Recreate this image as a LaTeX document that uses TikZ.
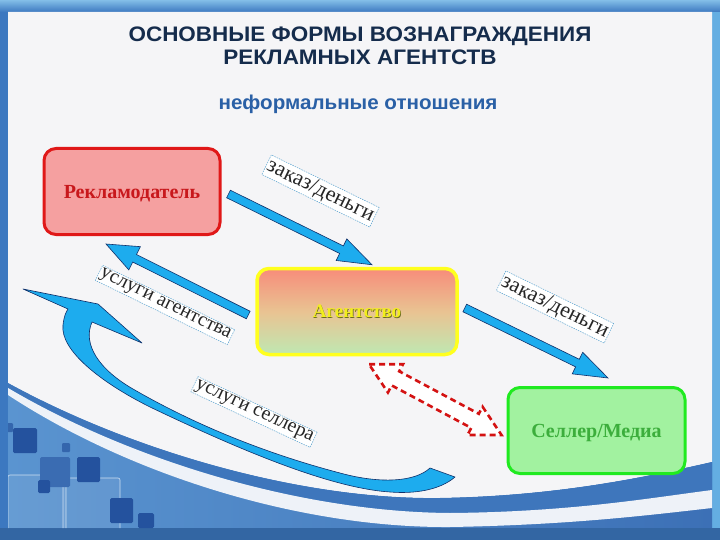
\documentclass[tikz,border=0pt]{standalone}
\usepackage{fontspec}
\setmainfont{Liberation Serif}
\newfontfamily\headfont{Liberation Sans}
\usetikzlibrary{calc}
\definecolor{frameL}{HTML}{3C78C0}
\definecolor{frameR}{HTML}{64AEE2}
\definecolor{inner}{HTML}{F5F5F7}
\definecolor{band}{HTML}{3E76BC}
\definecolor{stripe}{HTML}{EEF2F8}
\definecolor{lowL}{HTML}{5A94D0}
\definecolor{lowR}{HTML}{3C70B6}
\definecolor{sqdark}{HTML}{24529E}
\definecolor{titlec}{HTML}{152C4C}
\definecolor{subc}{HTML}{2A60A6}
\definecolor{advfill}{HTML}{F5A0A0}
\definecolor{advline}{HTML}{E01818}
\definecolor{advtext}{HTML}{C8181C}
\definecolor{agline}{HTML}{FFFF1E}
\definecolor{agtop}{HTML}{F78C7A}
\definecolor{agmid}{HTML}{E9C392}
\definecolor{agbot}{HTML}{BEE8B2}
\definecolor{agtext}{HTML}{F2EE1C}
\definecolor{agshadow}{HTML}{6A6A20}
\definecolor{selfill}{HTML}{A2F2A0}
\definecolor{selline}{HTML}{20EA20}
\definecolor{seltext}{HTML}{3CAE3C}
\definecolor{arrfill}{HTML}{1DACEE}
\definecolor{arrline}{HTML}{10306A}
\definecolor{dashred}{HTML}{D41212}
\definecolor{lblline}{HTML}{5AA2CE}
\newcommand\blockarrow[7]{%
  \coordinate (#1h) at ($(#3)!#6!(#2)$);
  \draw[#7] ($(#2)!#4!90:(#3)$) -- ($(#1h)!#4!-90:(#2)$) -- ($(#1h)!#5!-90:(#2)$) -- (#3)
    -- ($(#1h)!#5!90:(#2)$) -- ($(#1h)!#4!90:(#2)$) -- ($(#2)!#4!-90:(#3)$) -- cycle;}
\newcommand\doublearrow[7]{%
  \coordinate (#1p) at ($(#2)!#6!(#3)$);
  \coordinate (#1q) at ($(#3)!#6!(#2)$);
  \draw[#7] (#2) -- ($(#1p)!#5!90:(#3)$) -- ($(#1p)!#4!90:(#3)$) -- ($(#1q)!#4!-90:(#2)$)
    -- ($(#1q)!#5!-90:(#2)$) -- (#3) -- ($(#1q)!#5!90:(#2)$) -- ($(#1q)!#4!90:(#2)$)
    -- ($(#1p)!#4!-90:(#3)$) -- ($(#1p)!#5!-90:(#3)$) -- cycle;}
\tikzset{
  box/.style={rounded corners=12pt, minimum height=86pt, inner sep=0pt, text depth=0pt,
    font=\fontsize{20}{20}\selectfont\bfseries},
  lbl/.style={draw=lblline, fill=white, dash pattern=on 1.5pt off 1pt, line width=0.5pt,
    inner sep=1.5pt, font=\fontsize{20}{20}\selectfont, text=black!85},
  bluearrow/.style={fill=arrfill, draw=arrline, line width=0.6pt, line join=miter},
  sq/.style={fill=sqdark, rounded corners=1.5pt},
  sqlight/.style={draw=white!70!lowL, line width=0.6pt, rounded corners=2pt, fill=white, fill opacity=0.08}
}
\begin{document}
\begin{tikzpicture}[x=1pt,y=-1pt]
\useasboundingbox (0,0) rectangle (720,540);
% frame
\shade[left color=frameL, right color=frameR] (0,0) rectangle (720,540);
\shade[top color=frameR!80!white, bottom color=frameL] (0,0) rectangle (720,12);
% lower region
\shade[left color=lowL, right color=lowR] (8,380) rectangle (712,528);
\fill[frameL!85!black] (0,528) rectangle (720,540);
% inner light area
\fill[inner] (8,12) -- (712,12) -- (712,462) .. controls (650,476) and (560,496) .. (440,498)
  .. controls (300,500) and (130,450) .. (8,383) -- cycle;
% band between white and stripe
\fill[band] (8,383) .. controls (130,450) and (300,500) .. (440,498)
  .. controls (560,496) and (650,476) .. (712,462) -- (712,490)
  .. controls (650,498) and (570,512) .. (450,513) .. controls (300,512) and (130,460) .. (8,388) -- cycle;
% white stripe
\fill[stripe] (8,388) .. controls (130,460) and (300,512) .. (450,513)
  .. controls (570,512) and (650,498) .. (712,490) -- (712,508)
  .. controls (650,515) and (570,525) .. (450,527) .. controls (300,528) and (130,475) .. (8,395) -- cycle;
% decorative squares
\begin{scope}
\clip (8,395) .. controls (130,475) and (300,528) .. (450,527) -- (450,528) -- (8,528) -- cycle;
\draw[sqlight] (8,475) rectangle (66,534);
\draw[sqlight] (63,478) rectangle (120,536);
\fill[sqdark!60!lowL, rounded corners=1.5pt] (40,457) rectangle (70,487);
\fill[sq] (13,428) rectangle (37,453);
\fill[sqdark!70!lowL, rounded corners=1pt] (62,443) rectangle (70,452);
\fill[sq] (77,457) rectangle (100,482);
\fill[sq] (38,480) rectangle (50,493);
\fill[sq] (110,498) rectangle (133,523);
\fill[sq] (138,513) rectangle (154,528);
\fill[sqdark!70!lowL, rounded corners=1pt] (7,423) rectangle (13,432);
\end{scope}
% titles
\node[font=\headfont\bfseries\fontsize{21}{23}\selectfont, text=titlec, align=center, xscale=1.07] (title) at (360,46)
  {ОСНОВНЫЕ ФОРМЫ ВОЗНАГРАЖДЕНИЯ\\РЕКЛАМНЫХ АГЕНТСТВ};
\node[font=\headfont\bfseries\fontsize{20}{20}\selectfont, text=subc, xscale=1.03] (sub) at (358,104) {неформальные отношения};
% boxes
\node[box, draw=advline, line width=3pt, fill=advfill, minimum width=176pt, text=advtext] (adv) at (132,191.5) {Рекламодатель};
\node[box, draw=agline, line width=3.5pt, top color=agtop, bottom color=agbot, middle color=agmid, minimum width=200pt, text=agtext, font=\fontsize{19}{19}\selectfont\bfseries] (ag) at (357,311.5)
  {\makebox[0pt][l]{\hspace*{0.7pt}\raisebox{-0.7pt}{\textcolor{agshadow}{Агентство}}}Агентство};
\node[box, draw=selline, line width=3pt, fill=selfill, minimum width=177pt, text=seltext] (sel) at (596.5,430.5) {Селлер/Медиа};
% arrow end points
\coordinate (a1s) at ($(adv.east)+(7,2.5)$);
\coordinate (a1e) at ($(ag.north)+(15,-2)$);
\coordinate (a2s) at ($(ag.west)+(-7,3.5)$);
\coordinate (a2e) at ($(adv.south)+(-26,8)$);
\coordinate (a3s) at ($(ag.east)+(6,-3.5)$);
\coordinate (a3e) at ($(sel.north)+(11.5,-8)$);
\coordinate (d1) at ($(ag.south)+(12,8)$);
\coordinate (d2) at ($(sel.west)+(-5,4.5)$);
\blockarrow{A}{a1s}{a1e}{4.2pt}{12pt}{34pt}{bluearrow}
\blockarrow{B}{a2s}{a2e}{4.2pt}{13pt}{32pt}{bluearrow}
\blockarrow{C}{a3s}{a3e}{4.2pt}{12pt}{34pt}{bluearrow}
\doublearrow{D}{d1}{d2}{8pt}{16pt}{30pt}{fill=white, draw=dashred, line width=2.6pt, dash pattern=on 6pt off 4pt, line join=miter}
% curved arrow (services of seller)
\coordinate (ctail) at (455,477);
\coordinate (chead) at (23,289);
\draw[bluearrow, line join=round] (chead) -- (98,304) -- (142,343) -- (92,322)
  .. controls (82,345) and (100,370) .. (133,389)
  .. controls (190,422) and (260,452) .. (340,473)
  .. controls (380,484) and (415,482) .. (430,468) -- (ctail)
  .. controls (440,490) and (415,494) .. (390,492)
  .. controls (330,488) and (240,450) .. (150,407)
  .. controls (100,382) and (60,350) .. (63,325)
  .. controls (64,316) and (66,312) .. (68,309) -- cycle;
% labels
\node[lbl, rotate=-26, font=\fontsize{22}{22}\selectfont] (l1) at (320.5,191) {заказ/деньги};
\node[lbl, rotate=-26, font=\fontsize{22}{22}\selectfont] (l2) at (555,307) {заказ/деньги};
\node[lbl, rotate=-26] (l3) at (165,305) {услуги агентства};
\node[lbl, rotate=-25] (l4) at (254,412) {услуги селлера};
\end{tikzpicture}
\end{document}
